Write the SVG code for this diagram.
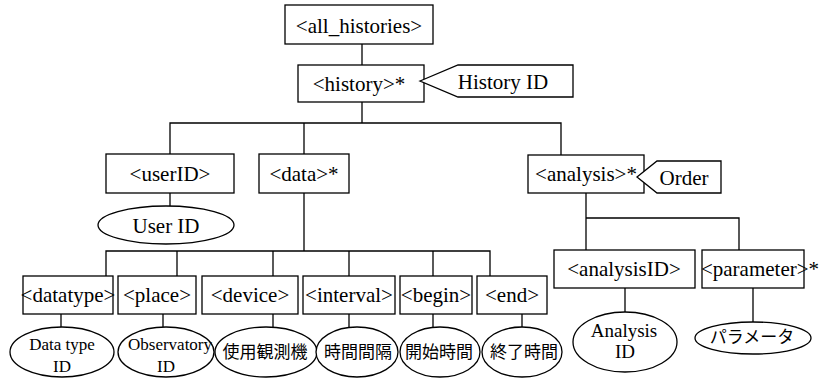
<svg xmlns="http://www.w3.org/2000/svg" width="825" height="380" viewBox="0 0 825 380">
  <style>
    .box { fill: #fff; stroke: #000; stroke-width: 1.3; }
    .ell { fill: #fff; stroke: #000; stroke-width: 1.3; }
    .tag { fill: #fff; stroke: #000; stroke-width: 1.3; stroke-linejoin: miter; }
    .wire { fill: none; stroke: #000; stroke-width: 1.3; }
    .t, .s, .m { font-family: 'Liberation Serif', Tinos, 'Times New Roman', 'DejaVu Serif', serif; fill: #000; text-anchor: middle; }
    .t { font-size: 21px; }
    .s { font-size: 17px; }
    .m { font-size: 19px; }
    .j { font-family: 'Noto Sans CJK JP', 'Noto Sans CJK SC', sans-serif; font-size: 17px; fill: #000; text-anchor: middle; }
  </style>

  <!-- tree connectors -->
  <g id="connectors">
    <path class="wire" d="M362 44V65"/>
    <path class="wire" d="M362 102V123"/>
    <path class="wire" d="M170 154V123H561V155"/>
    <path class="wire" d="M304 123V154"/>
    <path class="wire" d="M170 193V206"/>
    <path class="wire" d="M304 193V251"/>
    <path class="wire" d="M106 276V251H490V276"/>
    <path class="wire" d="M177 251V276"/>
    <path class="wire" d="M273 251V276"/>
    <path class="wire" d="M349 251V276"/>
    <path class="wire" d="M433 251V276"/>
    <path class="wire" d="M61 314V327"/>
    <path class="wire" d="M163 314V327"/>
    <path class="wire" d="M273 314V328"/>
    <path class="wire" d="M349 314V328"/>
    <path class="wire" d="M433 314V328"/>
    <path class="wire" d="M522 314V328"/>
    <path class="wire" d="M586 193V250"/>
    <path class="wire" d="M586 218H739V250"/>
    <path class="wire" d="M625 288V312"/>
    <path class="wire" d="M753 288V322"/>
  </g>

  <g id="all_histories">
    <rect class="box" x="285" y="5" width="148" height="39"/>
    <text class="t" x="359" y="33" font-family="Liberation Serif, serif">&lt;all_histories&gt;</text>
  </g>

  <g id="history">
    <rect class="box" x="298" y="65" width="126" height="37"/>
    <text class="t" x="359" y="91">&lt;history&gt;*</text>
  </g>

  <g id="history_id">
    <polygon class="tag" points="420,81 458,65 573,65 573,97 458,97"/>
    <text class="t" x="503" y="89">History ID</text>
  </g>

  <g id="userID">
    <rect class="box" x="106" y="154" width="128" height="39"/>
    <text class="t" x="170" y="181">&lt;userID&gt;</text>
  </g>

  <g id="user_id_value">
    <ellipse class="ell" cx="166" cy="225" rx="68" ry="19"/>
    <text class="t" x="166" y="233">User ID</text>
  </g>

  <g id="data">
    <rect class="box" x="259" y="154" width="90" height="39"/>
    <text class="t" x="304" y="181">&lt;data&gt;*</text>
  </g>

  <g id="analysis">
    <rect class="box" x="528" y="155" width="116" height="38"/>
    <text class="t" x="586" y="181">&lt;analysis&gt;*</text>
  </g>

  <g id="order">
    <polygon class="tag" points="637,177 657,161 721,161 721,193 657,193"/>
    <text class="t" x="684" y="185">Order</text>
  </g>

  <!-- data children -->
  <g id="datatype">
    <rect class="box" x="23" y="276" width="90" height="38"/>
    <text class="t" x="68" y="302">&lt;datatype&gt;</text>
  </g>
  <g id="place">
    <rect class="box" x="118" y="276" width="78" height="38"/>
    <text class="t" x="157" y="302">&lt;place&gt;</text>
  </g>
  <g id="device">
    <rect class="box" x="202" y="276" width="96" height="38"/>
    <text class="t" x="250" y="302">&lt;device&gt;</text>
  </g>
  <g id="interval">
    <rect class="box" x="303" y="276" width="92" height="38"/>
    <text class="t" x="349" y="302">&lt;interval&gt;</text>
  </g>
  <g id="begin">
    <rect class="box" x="400" y="276" width="72" height="38"/>
    <text class="t" x="436" y="302">&lt;begin&gt;</text>
  </g>
  <g id="end">
    <rect class="box" x="477" y="276" width="70" height="38"/>
    <text class="t" x="512" y="302">&lt;end&gt;</text>
  </g>

  <!-- value ellipses -->
  <g id="datatype_id">
    <ellipse class="ell" cx="62" cy="352" rx="52" ry="25"/>
    <text class="s" x="62" y="350">Data type</text>
    <text class="s" x="62" y="372">ID</text>
  </g>
  <g id="observatory_id">
    <ellipse class="ell" cx="166" cy="352" rx="48" ry="25"/>
    <text class="s" x="170" y="350">Observatory</text>
    <text class="s" x="166" y="372">ID</text>
  </g>
  <g id="device_value">
    <ellipse class="ell" cx="266" cy="352" rx="51" ry="25"/>
    <text class="j" x="265" y="358">使用観測機</text>
  </g>
  <g id="interval_value">
    <ellipse class="ell" cx="357" cy="352" rx="41" ry="25"/>
    <text class="j" x="358" y="358">時間間隔</text>
  </g>
  <g id="begin_value">
    <ellipse class="ell" cx="440" cy="352" rx="40" ry="25"/>
    <text class="j" x="439" y="358">開始時間</text>
  </g>
  <g id="end_value">
    <ellipse class="ell" cx="522" cy="352" rx="40" ry="25"/>
    <text class="j" x="524" y="358">終了時間</text>
  </g>

  <!-- analysis children -->
  <g id="analysisID">
    <rect class="box" x="554" y="250" width="141" height="38"/>
    <text class="t" x="624" y="276">&lt;analysisID&gt;</text>
  </g>
  <g id="parameter">
    <rect class="box" x="702" y="250" width="102" height="38"/>
    <text class="t" x="760" y="276">&lt;parameter&gt;*</text>
  </g>
  <g id="analysis_id_value">
    <ellipse class="ell" cx="625" cy="342" rx="52" ry="30"/>
    <text class="m" x="624" y="337">Analysis</text>
    <text class="m" x="625" y="358">ID</text>
  </g>
  <g id="parameter_value">
    <ellipse class="ell" cx="753" cy="338" rx="58" ry="16"/>
    <text class="j" x="752" y="343">パラメータ</text>
  </g>
</svg>
